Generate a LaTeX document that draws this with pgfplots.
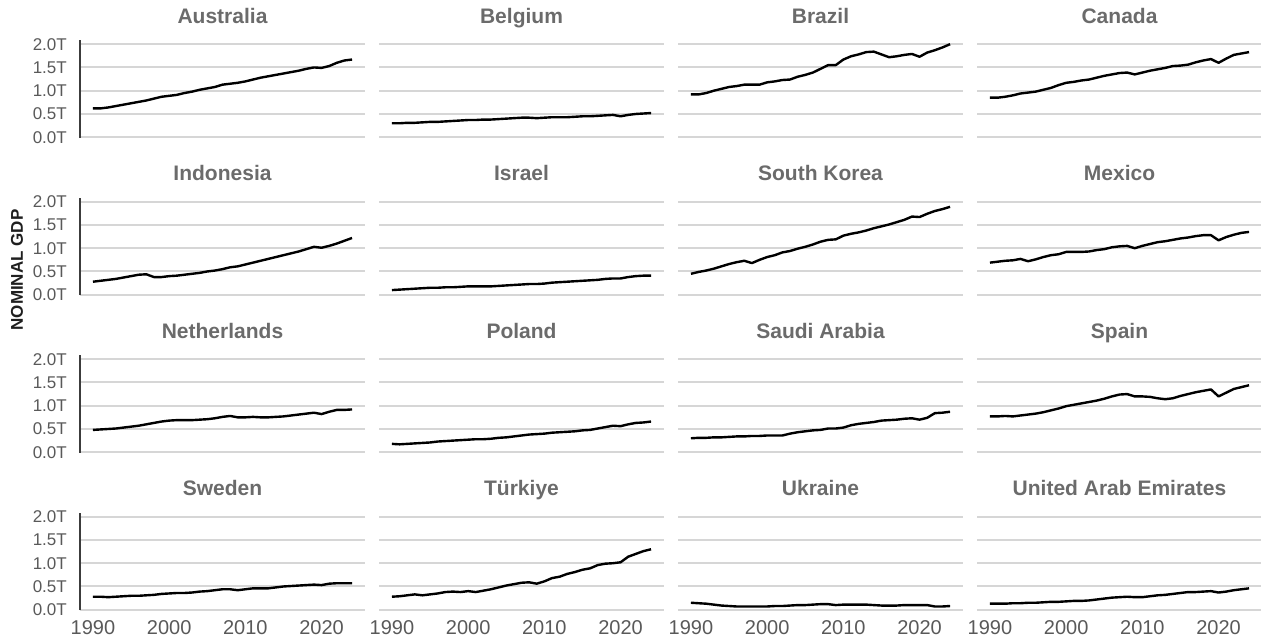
\documentclass[border=0pt]{standalone}
\usepackage{fontspec}
\setmainfont{Liberation Sans}
\usepackage{pgfplots}
\usepackage{pgfplotstable}
\pgfplotsset{compat=1.18}
\definecolor{gridgray}{HTML}{D6D6D6}
\definecolor{titlegray}{HTML}{6B6B6B}
\definecolor{tickgray}{HTML}{595959}
\definecolor{axisgray}{HTML}{3C3C3C}

% constant-dollar GDP, trillions
\pgfplotstableread{
year aus  bel  bra  can  idn  isr  kor  mex  nld  pol  sau  esp  swe  tur  ukr  are
1990 0.62 0.30 0.92 0.85 0.28 0.10 0.45 0.69 0.48 0.18 0.30 0.77 0.28 0.28 0.15 0.13
1991 0.62 0.30 0.92 0.85 0.30 0.11 0.49 0.71 0.49 0.17 0.31 0.77 0.28 0.29 0.14 0.13
1992 0.64 0.31 0.95 0.87 0.32 0.12 0.52 0.73 0.50 0.18 0.31 0.78 0.27 0.31 0.13 0.13
1993 0.67 0.31 1.00 0.90 0.34 0.13 0.56 0.74 0.51 0.19 0.32 0.77 0.28 0.33 0.11 0.14
1994 0.70 0.32 1.04 0.94 0.37 0.14 0.61 0.77 0.53 0.20 0.32 0.79 0.29 0.31 0.09 0.14
1995 0.73 0.33 1.08 0.96 0.40 0.15 0.66 0.72 0.55 0.21 0.33 0.81 0.30 0.33 0.08 0.15
1996 0.76 0.33 1.10 0.98 0.43 0.15 0.70 0.76 0.57 0.23 0.34 0.83 0.30 0.35 0.07 0.15
1997 0.79 0.34 1.13 1.02 0.44 0.16 0.73 0.81 0.60 0.24 0.34 0.86 0.31 0.38 0.07 0.16
1998 0.83 0.35 1.13 1.06 0.38 0.16 0.68 0.85 0.63 0.25 0.35 0.90 0.32 0.39 0.07 0.17
1999 0.87 0.36 1.13 1.12 0.38 0.17 0.75 0.87 0.66 0.26 0.35 0.94 0.34 0.38 0.07 0.17
2000 0.89 0.37 1.18 1.17 0.40 0.18 0.81 0.92 0.68 0.27 0.36 0.99 0.35 0.40 0.07 0.18
2001 0.91 0.37 1.20 1.19 0.41 0.18 0.85 0.92 0.69 0.28 0.36 1.02 0.36 0.38 0.08 0.19
2002 0.95 0.38 1.23 1.22 0.43 0.18 0.91 0.92 0.69 0.28 0.36 1.05 0.36 0.41 0.08 0.19
2003 0.98 0.38 1.24 1.24 0.45 0.18 0.94 0.93 0.69 0.29 0.40 1.08 0.37 0.44 0.09 0.20
2004 1.02 0.39 1.30 1.28 0.47 0.19 0.99 0.96 0.70 0.31 0.43 1.11 0.39 0.48 0.10 0.22
2005 1.05 0.40 1.34 1.32 0.50 0.20 1.03 0.98 0.71 0.32 0.45 1.15 0.40 0.52 0.10 0.24
2006 1.08 0.41 1.39 1.35 0.52 0.21 1.08 1.02 0.73 0.34 0.47 1.20 0.42 0.55 0.11 0.26
2007 1.13 0.42 1.47 1.38 0.55 0.22 1.14 1.04 0.76 0.36 0.48 1.24 0.44 0.58 0.12 0.27
2008 1.15 0.42 1.55 1.39 0.59 0.23 1.18 1.05 0.78 0.38 0.51 1.25 0.44 0.59 0.12 0.28
2009 1.17 0.41 1.55 1.35 0.61 0.23 1.19 1.00 0.75 0.39 0.51 1.20 0.42 0.56 0.10 0.27
2010 1.20 0.42 1.67 1.39 0.65 0.24 1.27 1.05 0.75 0.40 0.53 1.20 0.44 0.61 0.11 0.27
2011 1.24 0.43 1.74 1.43 0.69 0.26 1.31 1.09 0.76 0.42 0.58 1.19 0.46 0.68 0.11 0.29
2012 1.28 0.43 1.78 1.46 0.73 0.27 1.34 1.13 0.75 0.43 0.61 1.16 0.46 0.71 0.11 0.31
2013 1.31 0.43 1.83 1.49 0.77 0.28 1.38 1.15 0.75 0.44 0.63 1.14 0.46 0.77 0.11 0.32
2014 1.34 0.44 1.84 1.53 0.81 0.29 1.43 1.18 0.76 0.45 0.65 1.16 0.48 0.81 0.10 0.34
2015 1.37 0.45 1.78 1.54 0.85 0.30 1.47 1.21 0.77 0.47 0.68 1.21 0.50 0.86 0.09 0.36
2016 1.40 0.45 1.72 1.56 0.89 0.31 1.51 1.23 0.79 0.48 0.69 1.25 0.51 0.89 0.09 0.38
2017 1.43 0.46 1.74 1.61 0.93 0.32 1.56 1.26 0.81 0.51 0.70 1.29 0.52 0.96 0.09 0.38
2018 1.47 0.47 1.77 1.65 0.98 0.34 1.61 1.28 0.83 0.54 0.72 1.32 0.53 0.99 0.10 0.39
2019 1.50 0.48 1.79 1.68 1.03 0.35 1.68 1.28 0.85 0.57 0.73 1.35 0.54 1.00 0.10 0.40
2020 1.49 0.45 1.73 1.60 1.01 0.35 1.67 1.17 0.82 0.56 0.70 1.20 0.53 1.02 0.10 0.37
2021 1.53 0.48 1.82 1.69 1.05 0.38 1.74 1.24 0.87 0.60 0.74 1.28 0.56 1.14 0.10 0.39
2022 1.60 0.50 1.87 1.77 1.10 0.40 1.80 1.29 0.91 0.63 0.84 1.36 0.57 1.20 0.07 0.42
2023 1.65 0.51 1.93 1.80 1.16 0.41 1.84 1.33 0.91 0.64 0.85 1.40 0.57 1.26 0.07 0.44
2024 1.67 0.52 2.00 1.83 1.22 0.41 1.89 1.35 0.92 0.66 0.87 1.44 0.57 1.30 0.08 0.46
}\gdp

\pgfplotsset{
  panel/.style={
    scale only axis, width=285pt, height=97.7pt,
    anchor=north west,
    xmin=1988.3, xmax=2025.7, ymin=-0.01, ymax=2.09,
    xtick={1990,2000,2010,2020}, ytick={0,0.5,1,1.5,2},
    xticklabels={}, yticklabels={},
    major tick length=0pt,
    axis line style={draw=none},
    ymajorgrids, grid style={gridgray, line width=2pt},
    tick label style={text=tickgray, inner sep=0pt},
    /pgf/number format/assume math mode=true,
    title style={at={(0.5,1)}, anchor=base, yshift=10.7pt, inner sep=0pt,
      font=\fontsize{21}{24}\selectfont\bfseries, text=titlegray},
  },
  firstcol/.style={
    yticklabels={0.0T,0.5T,1.0T,1.5T,2.0T},
    yticklabel style={font=\fontsize{17}{20}\selectfont, xshift=-13pt},
    after end axis/.code={\draw[axisgray, line width=2.5pt] (rel axis cs:0,0) -- (rel axis cs:0,1);},
  },
  lastrow/.style={
    xticklabels={1990,2000,2010,2020},
    xticklabel style={font=\fontsize{20}{24}\selectfont, yshift=-10pt},
  },
}

\newcommand{\panel}[5]{%
  \begin{axis}[panel, at={(#1pt,-#2pt)}, title={#4}, #5]
    \addplot[black, no marks, line width=2.4pt, line join=round] table[x=year, y=#3] {\gdp};
  \end{axis}}

\begin{document}
\begin{tikzpicture}
\useasboundingbox (0pt,0pt) rectangle (1261pt,-642pt);
\panel{80}{40}{aus}{Australia}{firstcol}
\panel{379}{40}{bel}{Belgium}{}
\panel{678}{40}{bra}{Brazil}{}
\panel{977}{40}{can}{Canada}{}
\panel{80}{197.5}{idn}{Indonesia}{firstcol}
\panel{379}{197.5}{isr}{Israel}{}
\panel{678}{197.5}{kor}{South Korea}{}
\panel{977}{197.5}{mex}{Mexico}{}
\panel{80}{355}{nld}{Netherlands}{firstcol}
\panel{379}{355}{pol}{Poland}{}
\panel{678}{355}{sau}{Saudi Arabia}{}
\panel{977}{355}{esp}{Spain}{}
\panel{80}{512.5}{swe}{Sweden}{firstcol,lastrow}
\panel{379}{512.5}{tur}{Türkiye}{lastrow}
\panel{678}{512.5}{ukr}{Ukraine}{lastrow}
\panel{977}{512.5}{are}{United Arab Emirates}{lastrow}
\node[rotate=90, font=\fontsize{17}{20}\selectfont\bfseries, text=black!88] at (17pt,-270pt) {NOMINAL GDP};
\end{tikzpicture}
\end{document}
